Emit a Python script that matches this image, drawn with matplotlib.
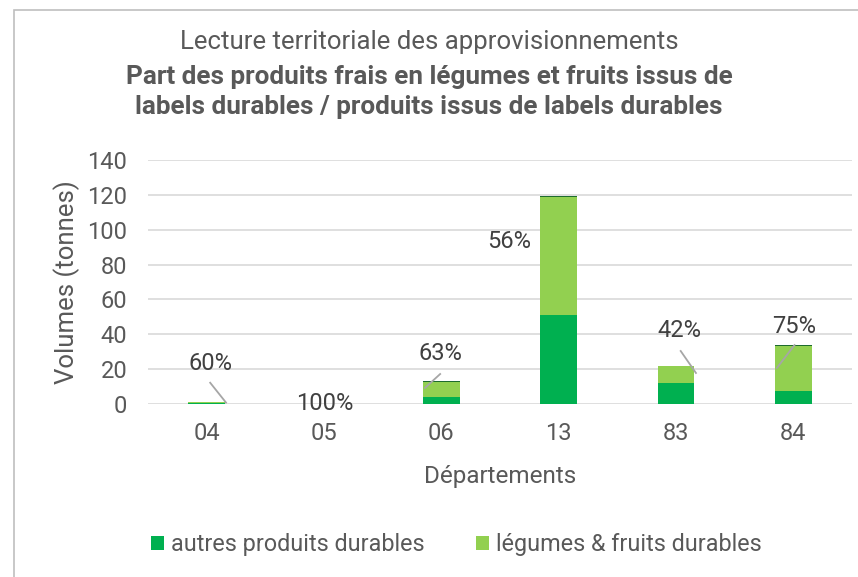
import numpy as np
import matplotlib.pyplot as plt
from matplotlib.patches import Rectangle

plt.rcParams['font.family'] = ['Roboto', 'DejaVu Sans']

# données
departements = ["04", "05", "06", "13", "83", "84"]
autres = [0.4, 0.0, 4.0, 51.0, 12.2, 7.6]
legumes = [0.6, 0.15, 8.4, 68.0, 9.8, 25.5]
autres_bord = [0.0, 0.0, 0.6, 0.3, 0.0, 0.6]
pourcentages = ["60%", "100%", "63%", "56%", "42%", "75%"]

# positions des étiquettes (en coordonnées données) et traits de rappel
label_pos = [(0.03, 23), (1.01, 0), (1.99, 28.7), (2.58, 93), (4.03, 42), (5.01, 44.7)]
leader = [((0.03, 12.2), (0.165, 0.8)), None, ((1.86, 9.2), (1.99, 17.2)), None,
          ((4.04, 30.4), (4.17, 17.8)), ((4.86, 20.7), (5.01, 33.8))]

fig = plt.figure(figsize=(8.58, 5.77), dpi=100)
ax = fig.add_axes([148 / 858, 1 - 404 / 577, 704 / 858, 244 / 577])

x = np.arange(len(departements))
w = 0.315
ax.bar(x, autres, w, color="#00B050", label="autres produits durables", zorder=3)
ax.bar(x, legumes, w, bottom=autres, color="#92D050",
       label="légumes & fruits durables", zorder=3)
ax.bar(x, autres_bord, w, bottom=np.array(autres) + np.array(legumes),
       color="#1E6B2E", zorder=3)

for (lx, ly), txt in zip(label_pos, pourcentages):
    ax.text(lx, ly, txt, ha="center", va="center", fontsize=17, color="#404040", zorder=4)
for seg in leader:
    if seg:
        (x0, y0), (x1, y1) = seg
        ax.plot([x0, x1], [y0, y1], color="#A6A6A6", lw=1.3, zorder=4)

ax.set_xlim(-0.5, 5.5)
ax.set_ylim(0, 140)
ax.set_yticks(range(0, 141, 20))
ax.set_xticks(x)
ax.set_xticklabels(departements)
ax.grid(axis="y", color="#D9D9D9", lw=1.2, zorder=0)
for s in ax.spines.values():
    s.set_visible(False)
ax.tick_params(length=0, labelsize=17, labelcolor="#595959")
ax.tick_params(axis="x", pad=13)
ax.tick_params(axis="y", pad=15)
ax.set_xlabel("Départements", fontsize=17.5, color="#595959", labelpad=14)
ax.set_ylabel("Volumes (tonnes)", fontsize=18.5, color="#595959", labelpad=5)

fig.text(0.5, 1 - 42 / 577, "Lecture territoriale des approvisionnements",
         ha="center", va="center", fontsize=18.5, color="#595959")
fig.text(0.5, 1 - 92 / 577,
         "Part des produits frais en légumes et fruits issus de\nlabels durables / produits issus de labels durables",
         ha="center", va="center", fontsize=18.8, fontweight="bold", color="#595959",
         linespacing=1.3)

fig.legend(loc="center", bbox_to_anchor=(0.532, 1 - 545 / 577), ncol=2, frameon=False,
           fontsize=16.8, labelcolor="#595959", handlelength=0.55, handleheight=0.55,
           columnspacing=2.2, handletextpad=0.3)

fig.patches.append(Rectangle((14 / 858, -0.01), 1.0, 1 - 10 / 577 + 0.01,
                             transform=fig.transFigure, fill=False,
                             edgecolor="#BFBFBF", lw=1.2))

fig.savefig("out.png", dpi=100)
